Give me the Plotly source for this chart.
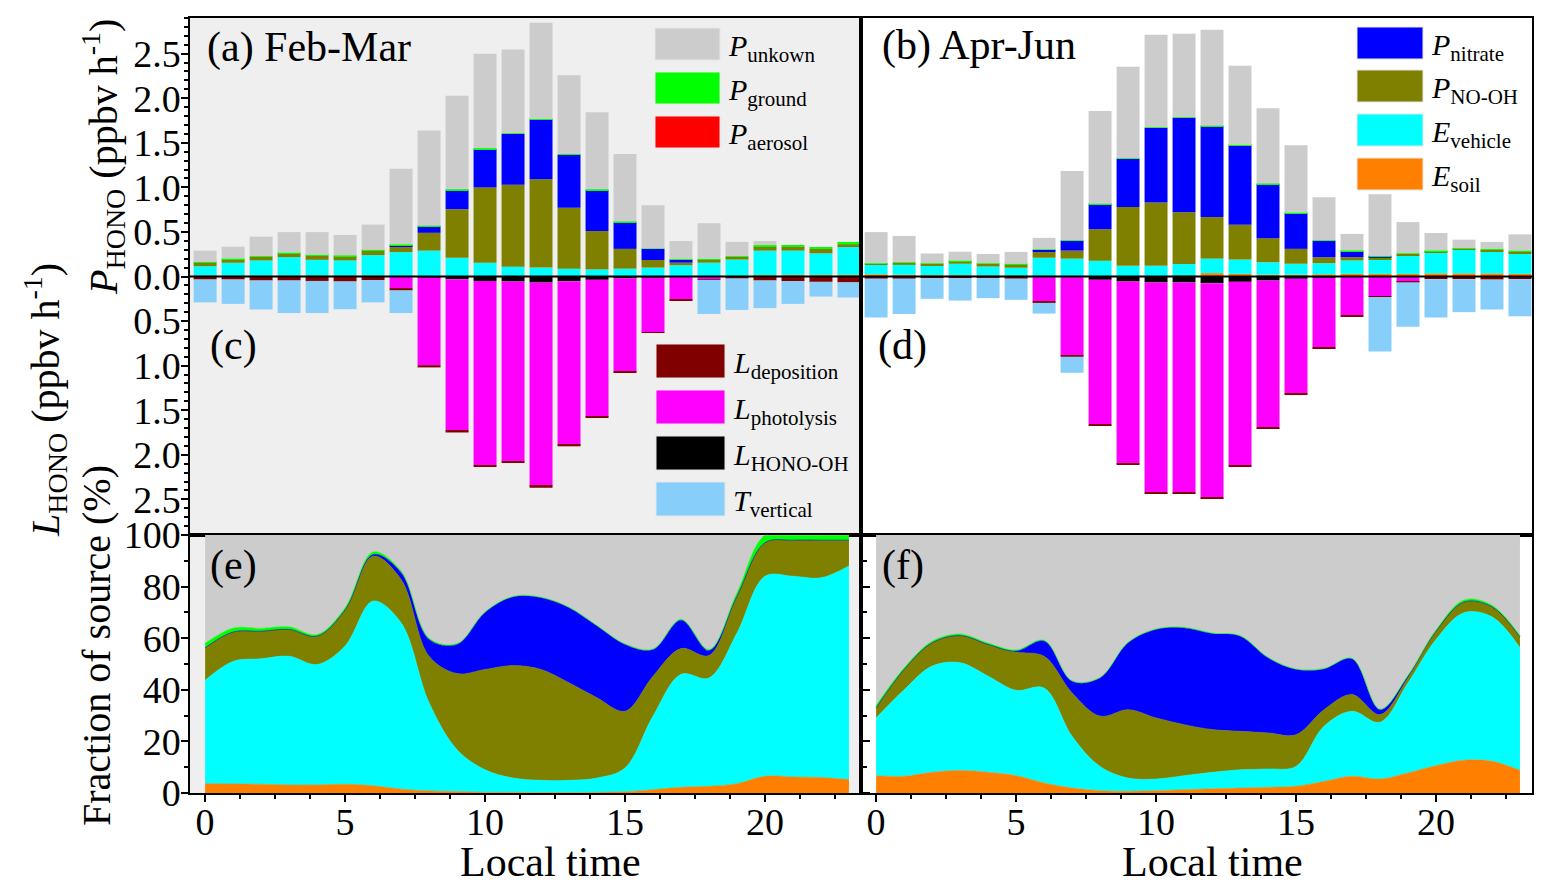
import plotly.graph_objects as go

W, H = 1551, 895
FONT = "Liberation Serif"
OFFSET = 8  # default page margin around the plot div

hours = list(range(24))

# ---- (a) Feb-Mar, HONO sources (ppbv h-1)
feb_soil = [0.010, 0.010, 0.010, 0.010, 0.010, 0.010, 0.010, 0.008, 0.005, 0.004, 0.003, 0.003,
            0.003, 0.003, 0.003, 0.003, 0.004, 0.005, 0.006, 0.008, 0.015, 0.018, 0.018, 0.018]
feb_vehicle = [0.105, 0.144, 0.170, 0.207, 0.177, 0.170, 0.230, 0.265, 0.285, 0.206, 0.152, 0.107,
               0.097, 0.085, 0.077, 0.085, 0.096, 0.121, 0.149, 0.182, 0.275, 0.272, 0.242, 0.312]
feb_no_oh = [0.040, 0.037, 0.040, 0.041, 0.045, 0.048, 0.050, 0.060, 0.200, 0.545, 0.845, 0.920,
             0.990, 0.682, 0.430, 0.222, 0.085, 0.029, 0.035, 0.030, 0.045, 0.045, 0.050, 0.033]
feb_nitrate = [0, 0, 0, 0, 0, 0, 0, 0.020, 0.070, 0.215, 0.430, 0.570,
               0.670, 0.595, 0.460, 0.300, 0.125, 0.035, 0, 0, 0, 0, 0, 0]
feb_aerosol = [0, 0, 0, 0, 0, 0, 0, 0, 0, 0, 0, 0,
               0, 0, 0, 0, 0, 0, 0, 0, 0, 0, 0, 0]
feb_ground = [0.008, 0.008, 0.008, 0.008, 0.010, 0.008, 0.008, 0.005, 0.008, 0.008, 0.008, 0.008,
              0.008, 0.008, 0.008, 0.008, 0.005, 0.005, 0.006, 0.008, 0.017, 0.017, 0.018, 0.025]
feb_unknown = [0.127, 0.136, 0.219, 0.232, 0.256, 0.230, 0.284, 0.850, 1.070, 1.050, 1.060, 0.940,
               1.080, 0.885, 0.865, 0.756, 0.483, 0.203, 0.402, 0.160, 0.046, 0.0, 0.0, 0.0]

# ---- (c) Feb-Mar, HONO sinks (ppbv h-1, plotted downward)
feb_hono_oh = [0, 0, 0, 0, 0, 0, 0, 0.003, 0.010, 0.030, 0.050, 0.056,
               0.068, 0.052, 0.037, 0.020, 0.010, 0.003, 0, 0, 0, 0, 0, 0]
feb_photolysis = [0, 0, 0, 0, 0, 0, 0.005, 0.127, 0.985, 1.700, 2.065, 2.019,
                  2.282, 1.838, 1.533, 1.050, 0.615, 0.259, 0.030, 0.003, 0, 0, 0, 0]
feb_deposition = [0.034, 0.034, 0.045, 0.045, 0.050, 0.056, 0.035, 0.027, 0.025, 0.020, 0.015, 0.015,
                  0.020, 0.015, 0.015, 0.010, 0.008, 0.011, 0.007, 0.020, 0.045, 0.052, 0.060, 0.066]
feb_vertical = [0.256, 0.273, 0.325, 0.365, 0.360, 0.311, 0.250, 0.253, 0, 0, 0, 0,
                0, 0, 0, 0, 0, 0, 0.383, 0.352, 0.310, 0.255, 0.165, 0.170]

# ---- (b) Apr-Jun, HONO sources
amj_soil = [0.025, 0.020, 0.015, 0.015, 0.012, 0.010, 0.010, 0.008, 0.006, 0.005, 0.005, 0.010,
            0.038, 0.030, 0.020, 0.020, 0.025, 0.030, 0.030, 0.030, 0.035, 0.035, 0.035, 0.030]
amj_vehicle = [0.105, 0.110, 0.113, 0.128, 0.100, 0.088, 0.200, 0.192, 0.170, 0.115, 0.115, 0.130,
               0.162, 0.160, 0.140, 0.123, 0.125, 0.150, 0.165, 0.210, 0.235, 0.265, 0.248, 0.230]
amj_no_oh = [0.012, 0.024, 0.016, 0.027, 0.032, 0.038, 0.064, 0.090, 0.354, 0.660, 0.710, 0.580,
             0.467, 0.390, 0.270, 0.167, 0.066, 0.037, 0.015, 0.014, 0.014, 0.012, 0.019, 0.022]
amj_nitrate = [0, 0, 0, 0, 0, 0, 0.026, 0.110, 0.280, 0.540, 0.837, 1.060,
               1.018, 0.890, 0.606, 0.400, 0.184, 0.068, 0.015, 0, 0, 0, 0, 0]
amj_aerosol = [0, 0, 0, 0, 0, 0, 0, 0, 0, 0, 0, 0,
               0, 0, 0, 0, 0, 0, 0, 0, 0, 0, 0, 0]
amj_ground = [0.006, 0.006, 0.004, 0.006, 0.004, 0.005, 0.005, 0.006, 0.006, 0.006, 0.006, 0.006,
              0.006, 0.006, 0.006, 0.006, 0.006, 0.006, 0.006, 0.006, 0.006, 0.006, 0.006, 0.006]
amj_unknown = [0.350, 0.295, 0.110, 0.102, 0.105, 0.135, 0.128, 0.777, 1.042, 1.027, 1.040, 0.937,
               1.077, 0.887, 0.846, 0.757, 0.482, 0.187, 0.692, 0.350, 0.198, 0.095, 0.080, 0.185]

# ---- (d) Apr-Jun, HONO sinks
amj_hono_oh = [0, 0, 0, 0, 0, 0, 0, 0.005, 0.037, 0.056, 0.067, 0.067,
               0.075, 0.060, 0.045, 0.026, 0.015, 0.005, 0, 0, 0, 0, 0, 0]
amj_photolysis = [0, 0, 0, 0, 0, 0, 0.280, 0.879, 1.618, 2.041, 2.353, 2.360,
                  2.405, 2.056, 1.645, 1.292, 0.785, 0.429, 0.225, 0.060, 0, 0, 0, 0]
amj_deposition = [0.025, 0.025, 0.020, 0.020, 0.015, 0.025, 0.016, 0.016, 0.019, 0.013, 0.010, 0.013,
                  0.010, 0.014, 0.020, 0.012, 0.010, 0.016, 0.005, 0.005, 0.030, 0.030, 0.035, 0.030]
amj_vertical = [0.435, 0.395, 0.230, 0.250, 0.228, 0.237, 0.120, 0.180, 0, 0, 0, 0,
                0, 0, 0, 0, 0, 0, 0.610, 0.500, 0.430, 0.370, 0.335, 0.416]

# ---- (e) Feb-Mar, fraction of source (%)
feb_frac_soil = [3.6, 3.5, 3.4, 3.1, 3.1, 3.4, 2.8, 1.5, 0.8, 0.6, 0.3, 0.3,
                 0.2, 0.2, 0.3, 0.5, 1.3, 2.2, 2.6, 3.6, 6.5, 6.2, 6.0, 5.2]
feb_frac_vehicle = [40.1, 47.5, 48.6, 49.9, 46.7, 53.6, 71.6, 64.5, 34.2, 16.2, 8.7, 5.5,
                    4.7, 4.7, 5.5, 9.2, 28.5, 43.8, 42.0, 58.4, 77.5, 77.8, 77.4, 82.8]
feb_frac_no_oh = [12.6, 11.4, 10.7, 10.4, 11.0, 14.0, 17.4, 16.8, 18.0, 29.5, 38.9, 43.6,
                  43.0, 37.8, 31.1, 22.0, 15.5, 10.0, 8.7, 14.3, 13.0, 14.0, 14.6, 10.0]
feb_frac_nitrate = [0, 0, 0, 0, 0, 0, 0.6, 2.6, 6.5, 11.3, 22.1, 26.6,
                    27.8, 29.1, 27.8, 25.9, 10.3, 11.0, 1.9, 0, 0, 0, 0, 0]
feb_frac_ground = [1.7, 1.5, 1.1, 1.0, 0.6, 0.8, 1.0, 0.6, 0.5, 0.3, 0.2, 0.2,
                   0.2, 0.2, 0.2, 0.2, 0.2, 0.3, 0.4, 1.3, 2.9, 2.0, 2.0, 2.0]
feb_frac_unknown = [42.0, 36.1, 36.2, 35.6, 38.6, 28.2, 6.6, 14.0, 40.0, 42.1, 29.8, 23.8,
                    24.1, 28.0, 35.1, 42.2, 44.2, 32.7, 44.4, 22.4, 0.1, 0.0, 0.0, 0.0]

# ---- (f) Apr-Jun, fraction of source (%)
amj_frac_soil = [6.7, 6.5, 8.0, 8.7, 8.0, 6.7, 3.9, 1.9, 0.9, 0.7, 0.9, 1.3,
                 1.6, 1.9, 2.2, 2.6, 4.5, 6.5, 5.4, 7.8, 10.6, 12.7, 12.3, 8.8]
amj_frac_vehicle = [22.4, 33.5, 41.2, 41.8, 37.3, 33.1, 36.8, 20.1, 9.4, 5.1, 4.5, 5.4,
                    6.4, 7.1, 7.1, 7.7, 21.4, 25.2, 22.0, 34.9, 48.9, 57.2, 56.0, 47.5]
amj_frac_no_oh = [3.9, 7.9, 9.0, 10.5, 12.3, 14.8, 12.3, 16.8, 19.5, 26.5, 23.7, 19.8,
                  16.6, 14.9, 14.0, 12.3, 6.4, 6.5, 3.0, 1.9, 3.2, 4.1, 3.9, 4.2]
amj_frac_nitrate = [0, 0, 0, 0, 0, 0.4, 5.9, 4.5, 14.8, 25.9, 34.3, 37.5,
                    37.2, 36.9, 29.1, 25.3, 15.8, 13.8, 1.9, 0.7, 0, 0, 0, 0]
amj_frac_ground = [0.9, 0.6, 0.6, 0.6, 0.5, 0.4, 0.3, 0.2, 0.2, 0.2, 0.2, 0.2,
                   0.2, 0.2, 0.2, 0.2, 0.2, 0.2, 0.2, 0.3, 0.5, 0.8, 0.6, 0.5]
amj_frac_unknown = [66.1, 51.5, 41.2, 38.4, 41.9, 44.6, 40.8, 56.5, 55.2, 41.6, 36.4, 35.8,
                    38.0, 39.0, 47.4, 51.9, 51.7, 47.8, 67.5, 54.4, 36.8, 25.2, 27.2, 39.0]

# axis ticks
rate_tick_vals = [-2.5, -2.0, -1.5, -1.0, -0.5, 0.0, 0.5, 1.0, 1.5, 2.0, 2.5]
rate_tick_text = ["2.5", "2.0", "1.5", "1.0", "0.5", "0.0", "0.5", "1.0", "1.5", "2.0", "2.5"]
frac_tick_vals = [0, 20, 40, 60, 80, 100]
hour_tick_vals = [0, 5, 10, 15, 20]

C = {
    "soil": "#ff8000", "vehicle": "#00ffff", "no_oh": "#808000", "nitrate": "#0000ff",
    "aerosol": "#ff0000", "ground": "#00ff00", "unknown": "#cccccc",
    "hono_oh": "#000000", "photolysis": "#ff00ff", "deposition": "#800000", "vertical": "#87cefa",
}

legend_a = [("<i>P</i><sub>unkown</sub>", C["unknown"]),
            ("<i>P</i><sub>ground</sub>", C["ground"]),
            ("<i>P</i><sub>aerosol</sub>", C["aerosol"])]
legend_b = [("<i>P</i><sub>nitrate</sub>", C["nitrate"]),
            ("<i>P</i><sub>NO-OH</sub>", C["no_oh"]),
            ("<i>E</i><sub>vehicle</sub>", C["vehicle"]),
            ("<i>E</i><sub>soil</sub>", C["soil"])]
legend_c = [("<i>L</i><sub>deposition</sub>", C["deposition"]),
            ("<i>L</i><sub>photolysis</sub>", C["photolysis"]),
            ("<i>L</i><sub>HONO-OH</sub>", C["hono_oh"]),
            ("<i>T</i><sub>vertical</sub>", C["vertical"])]


def px(x):
    return (x - OFFSET) / W


def py(y):
    return 1 - (y - OFFSET) / H


fig = go.Figure()


def add_budget(xa, ya, sources, sinks):
    for key, vals in sources:
        fig.add_trace(go.Bar(x=hours, y=vals, marker=dict(color=C[key], line=dict(width=0)),
                             xaxis=xa, yaxis=ya, showlegend=False, name=key))
    for key, vals in sinks:
        fig.add_trace(go.Bar(x=hours, y=[-v for v in vals], marker=dict(color=C[key], line=dict(width=0)),
                             xaxis=xa, yaxis=ya, showlegend=False, name=key))


def add_fraction(xa, ya, parts):
    for key, vals in parts:
        fig.add_trace(go.Scatter(x=hours, y=vals, mode="lines", stackgroup=xa,
                                 line=dict(color=C[key], width=0.6, shape="spline", smoothing=1.0),
                                 fillcolor=C[key], xaxis=xa, yaxis=ya, showlegend=False, name=key))


add_budget("x", "y",
           [("soil", feb_soil), ("vehicle", feb_vehicle), ("no_oh", feb_no_oh), ("nitrate", feb_nitrate),
            ("aerosol", feb_aerosol), ("ground", feb_ground), ("unknown", feb_unknown)],
           [("hono_oh", feb_hono_oh), ("photolysis", feb_photolysis),
            ("deposition", feb_deposition), ("vertical", feb_vertical)])
add_budget("x2", "y2",
           [("soil", amj_soil), ("vehicle", amj_vehicle), ("no_oh", amj_no_oh), ("nitrate", amj_nitrate),
            ("aerosol", amj_aerosol), ("ground", amj_ground), ("unknown", amj_unknown)],
           [("hono_oh", amj_hono_oh), ("photolysis", amj_photolysis),
            ("deposition", amj_deposition), ("vertical", amj_vertical)])
add_fraction("x3", "y3",
             [("soil", feb_frac_soil), ("vehicle", feb_frac_vehicle), ("no_oh", feb_frac_no_oh),
              ("nitrate", feb_frac_nitrate), ("ground", feb_frac_ground), ("unknown", feb_frac_unknown)])
add_fraction("x4", "y4",
             [("soil", amj_frac_soil), ("vehicle", amj_frac_vehicle), ("no_oh", amj_frac_no_oh),
              ("nitrate", amj_frac_nitrate), ("ground", amj_frac_ground), ("unknown", amj_frac_unknown)])

left_dom = [px(190), px(861)]
right_dom = [px(861), px(1532)]
top_dom = [py(535), py(18)]
bot_dom = [py(793), py(535)]
x_range = [-0.54, 23.43]

frame = dict(showline=True, mirror=True, linecolor="black", linewidth=1.5,
             showgrid=False, zeroline=False, automargin=False)
tickfont = dict(family=FONT, size=38, color="black")

top_x = dict(frame, range=x_range, showticklabels=False, ticks="")
bot_x = dict(frame, range=x_range, tickvals=hour_tick_vals, ticks="outside", ticklen=7,
             tickwidth=1.5, tickcolor="black", tickfont=tickfont, ticklabelstandoff=-12,
             minor=dict(tickmode="linear", tick0=0, dtick=1.25, ticks="outside", ticklen=4,
                        tickcolor="black"))

fig.update_layout(
    template="none",
    width=W, height=H, autosize=False,
    margin=dict(l=0, r=0, t=0, b=0, pad=0),
    paper_bgcolor="white", plot_bgcolor="white",
    barmode="relative", bargap=0.18,
    font=dict(family=FONT, color="black"),
    showlegend=False,
    xaxis=dict(top_x, domain=left_dom, anchor="y"),
    yaxis=dict(frame, domain=top_dom, anchor="x", range=[-2.9, 2.9],
               tickmode="array", tickvals=rate_tick_vals, ticktext=rate_tick_text,
               ticks="outside", ticklen=7, tickwidth=1.5, tickcolor="black", tickfont=tickfont,
               ticklabelstandoff=-7,
               minor=dict(tickmode="linear", tick0=0, dtick=0.1, ticks="outside", ticklen=4,
                          tickcolor="black")),
    xaxis2=dict(top_x, domain=right_dom, anchor="y2"),
    yaxis2=dict(frame, domain=top_dom, anchor="x2", range=[-2.9, 2.9],
                showticklabels=False, ticks=""),
    xaxis3=dict(bot_x, domain=left_dom, anchor="y3"),
    yaxis3=dict(frame, domain=bot_dom, anchor="x3", range=[0, 100], mirror="allticks",
                tickvals=frac_tick_vals, ticks="outside", ticklen=7, tickwidth=1.5,
                tickcolor="black", tickfont=tickfont, ticklabelstandoff=-7,
                minor=dict(tickmode="linear", tick0=0, dtick=10, ticks="outside", ticklen=4,
                           tickcolor="black")),
    xaxis4=dict(bot_x, domain=right_dom, anchor="y4"),
    yaxis4=dict(frame, domain=bot_dom, anchor="x4", range=[0, 100],
                showticklabels=False, ticks=""),
)

# panel backgrounds (left column light grey)
for xa, ya in [("x", "y"), ("x3", "y3")]:
    fig.add_shape(type="rect", xref=f"{xa} domain", yref=f"{ya} domain", x0=0, x1=1, y0=0, y1=1,
                  fillcolor="#efefef", line=dict(width=0), layer="below")

# zero line across bars
for xa, ya in [("x", "y"), ("x2", "y2")]:
    fig.add_shape(type="line", xref=f"{xa} domain", yref=ya, x0=0, x1=1, y0=0, y1=0,
                  line=dict(color="black", width=2), layer="above")


def draw_legend(entries, x0, x1, tops, height, text_x, size=30):
    for (label, color), top in zip(entries, tops):
        fig.add_shape(type="rect", xref="paper", yref="paper",
                      x0=px(x0), x1=px(x1), y0=py(top + height), y1=py(top),
                      fillcolor=color, line=dict(color="#e6e6e6", width=1))
        fig.add_annotation(x=px(text_x), y=py(top + height / 2 + 4), xref="paper", yref="paper",
                           text=label, showarrow=False, xanchor="left", yanchor="middle",
                           font=dict(family=FONT, size=size, color="black"))


draw_legend(legend_a, 655, 720, [28, 72, 116], 32, 726)
draw_legend(legend_b, 1357, 1423, [27, 70, 114, 158], 32, 1429)
draw_legend(legend_c, 656, 725, [344, 390, 436, 482], 34, 731)

panel_labels = [("(a) Feb-Mar", 205, 48), ("(b) Apr-Jun", 880, 46), ("(c)", 208, 345),
                ("(d)", 876, 345), ("(e)", 208, 565), ("(f)", 880, 565)]
for text, x, y in panel_labels:
    fig.add_annotation(x=px(x), y=py(y), xref="paper", yref="paper", text=text, showarrow=False,
                       xanchor="left", yanchor="middle", font=dict(family=FONT, size=42, color="black"))

axis_titles = [
    ("<i>P</i><sub>HONO</sub> (ppbv h<sup>-1</sup>)", 103, 157),
    ("<i>L</i><sub>HONO</sub> (ppbv h<sup>-1</sup>)", 45, 400),
    ("Fraction of source (%)", 96, 646),
]
for text, x, y in axis_titles:
    fig.add_annotation(x=px(x), y=py(y), xref="paper", yref="paper", text=text, showarrow=False,
                       textangle=-90, xanchor="center", yanchor="middle",
                       font=dict(family=FONT, size=40, color="black"))

for x in [550, 1212]:
    fig.add_annotation(x=px(x), y=py(862), xref="paper", yref="paper", text="Local time",
                       showarrow=False, xanchor="center", yanchor="middle",
                       font=dict(family=FONT, size=42, color="black"))

fig.write_html("out.html")
